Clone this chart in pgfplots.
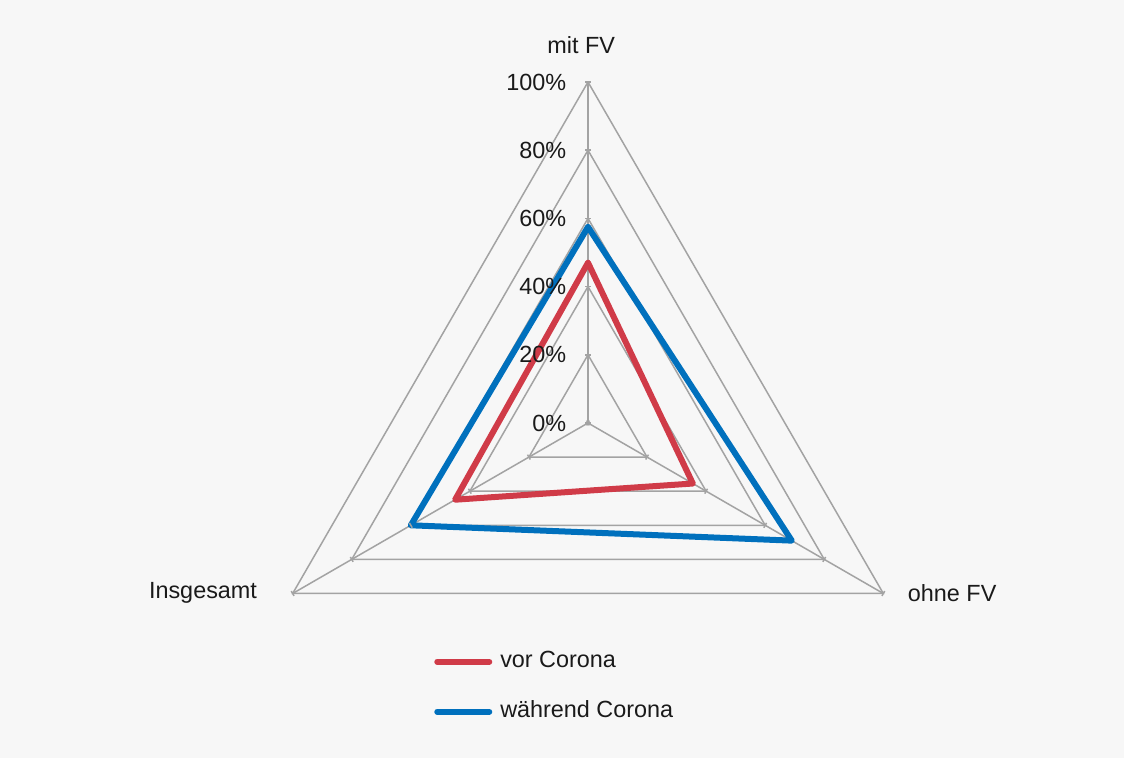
\documentclass[border=0pt]{standalone}
\usepackage{fontspec}
\setmainfont{Liberation Sans}
\usepackage{pgfplots}
\pgfplotsset{compat=1.18}
\definecolor{bg}{HTML}{F7F7F7}
\definecolor{gridc}{HTML}{A3A3A3}
\definecolor{redc}{HTML}{D03B48}
\definecolor{bluec}{HTML}{0070BD}
\definecolor{txt}{HTML}{1A1A1A}
\begin{document}
\begin{tikzpicture}[font=\fontsize{11.7pt}{14pt}\selectfont]
\fill[bg] (0,0) rectangle (562pt,379pt);
\useasboundingbox (0,0) rectangle (562pt,379pt);
\begin{axis}[
  at={(0,0)}, anchor=south west, scale only axis,
  x=1.705pt, y=1.705pt,
  xmin=-172.43, xmax=157.18, ymin=-98.24, ymax=124.05,
  hide axis, clip=false,
  legend cell align=left,
  legend image code/.code={\draw[#1, line cap=round] (0pt,0pt) -- (26pt,0pt);},
  legend style={draw=none, fill=none, at={(0.386,0.094)}, anchor=west,
    inner sep=0pt, row sep=13pt, column sep=4pt, text=txt,
    nodes={inner sep=0pt, text height=9pt, text depth=3pt},
    font=\fontsize{11.7pt}{14pt}\selectfont},
]
% grid triangles
\pgfplotsinvokeforeach{20,40,60,80,100}{
  \addplot[gridc, line width=0.75pt, data cs=polar, forget plot] coordinates {(90,#1) (210,#1) (330,#1) (90,#1)};
}
% spokes with ticks
\addplot[gridc, line width=0.85pt, data cs=polar, forget plot, mark=-, mark size=1.4pt, mark options={solid, line width=0.75pt}]
  coordinates {(90,0) (90,20) (90,40) (90,60) (90,80) (90,100)};
\addplot[gridc, line width=0.75pt, data cs=polar, forget plot, mark=-, mark size=1.4pt, mark options={solid, line width=0.75pt, rotate=60}]
  coordinates {(330,0) (330,20) (330,40) (330,60) (330,80) (330,100)};
\addplot[gridc, line width=0.75pt, data cs=polar, forget plot, mark=-, mark size=1.4pt, mark options={solid, line width=0.75pt, rotate=-60}]
  coordinates {(210,0) (210,20) (210,40) (210,60) (210,80) (210,100)};
% series
\addplot[redc, line width=3pt, line join=round, line cap=round, data cs=polar]
  coordinates {(90,47) (330,35.5) (210,45) (90,47)};
\addlegendentry{vor Corona}
\addplot[bluec, line width=3pt, line join=round, line cap=round, data cs=polar]
  coordinates {(90,57.5) (330,69) (210,60) (90,57.5)};
\addlegendentry{während Corona}
% category labels
\node[text=txt] at (axis cs:-2,110.85) {mit FV};
\node[text=txt] at (axis cs:106.8,-49.9) {ohne FV};
\node[text=txt] at (axis cs:-112.9,-49.9) {Insgesamt};
% radial tick labels
\node[text=txt, anchor=east, inner sep=0pt] at (axis cs:-6.3,0) {0\%};
\node[text=txt, anchor=east, inner sep=0pt] at (axis cs:-6.3,20) {20\%};
\node[text=txt, anchor=east, inner sep=0pt] at (axis cs:-6.3,40) {40\%};
\node[text=txt, anchor=east, inner sep=0pt] at (axis cs:-6.3,60) {60\%};
\node[text=txt, anchor=east, inner sep=0pt] at (axis cs:-6.3,80) {80\%};
\node[text=txt, anchor=east, inner sep=0pt] at (axis cs:-6.3,100) {100\%};
\end{axis}
\end{tikzpicture}
\end{document}
